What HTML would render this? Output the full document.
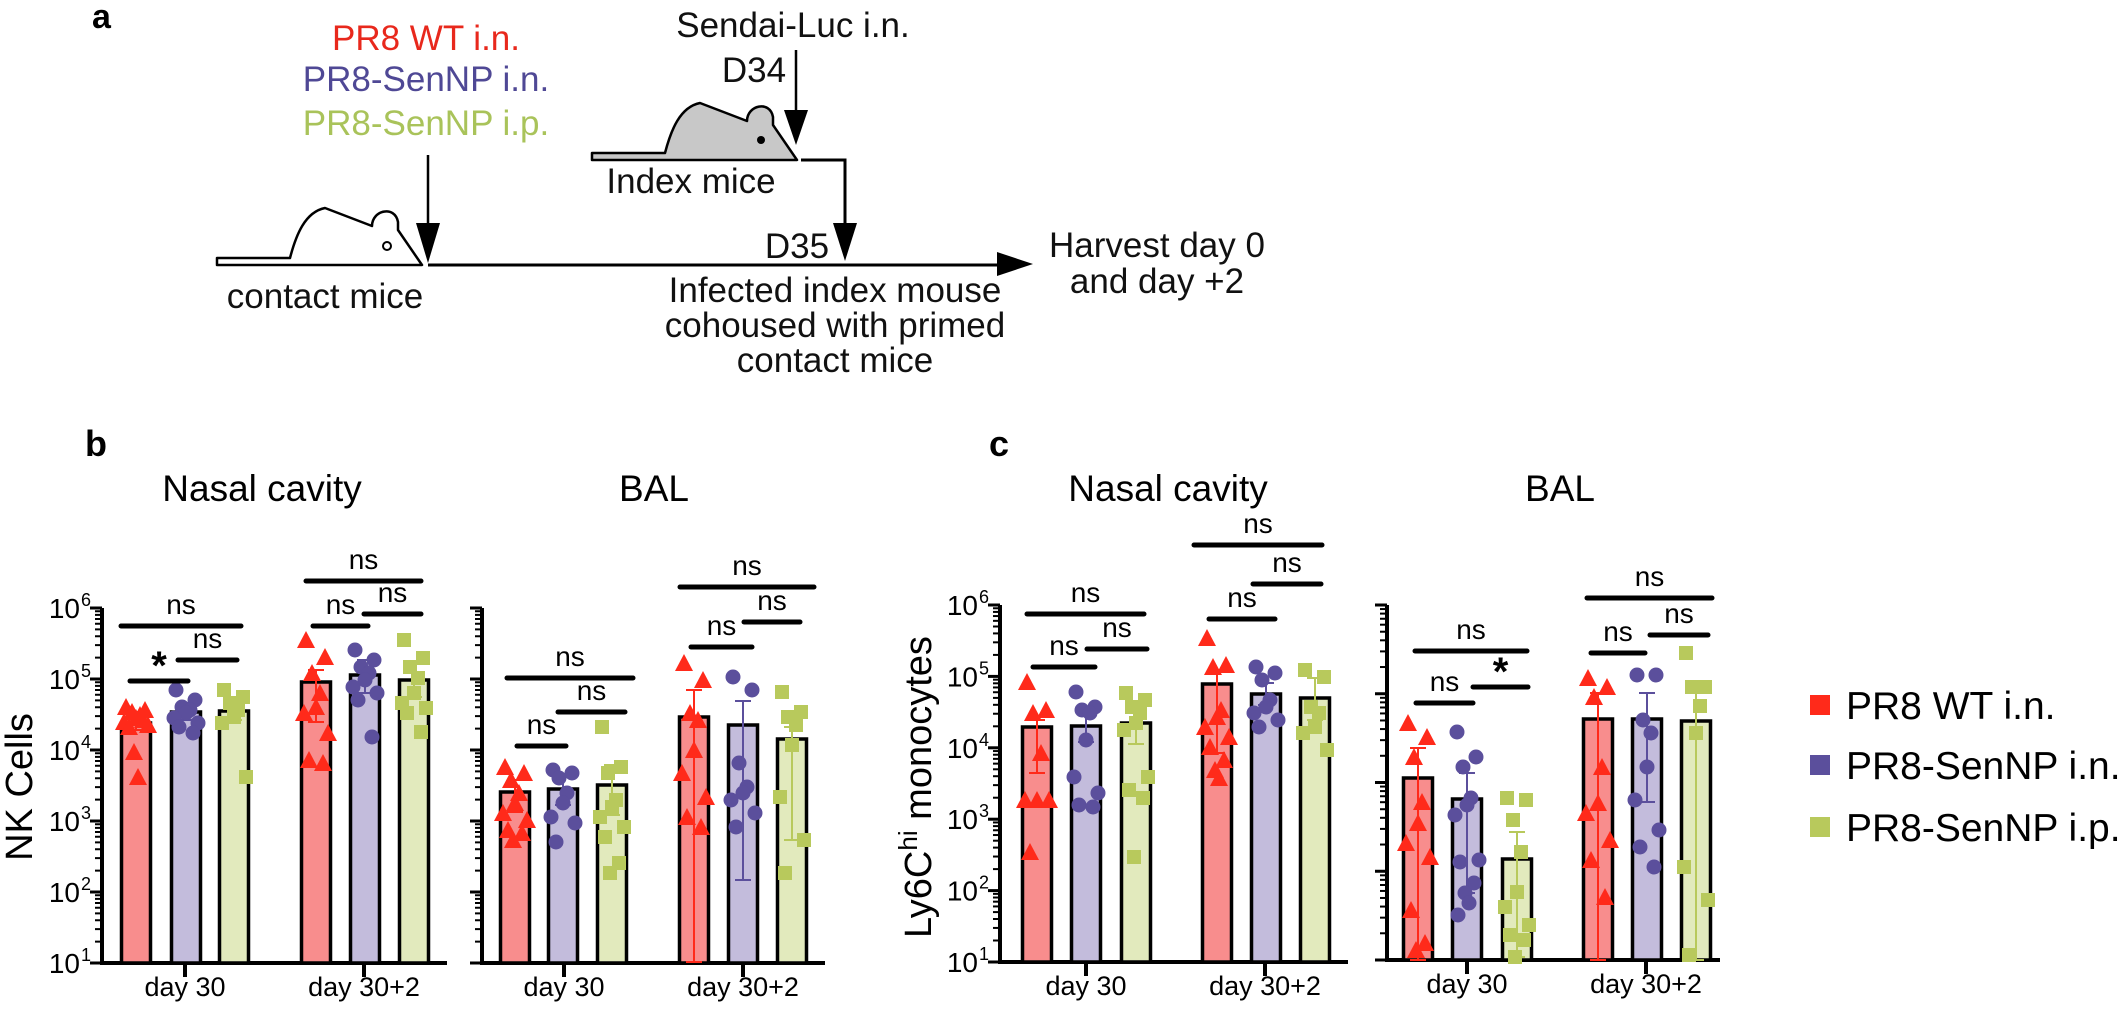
<!DOCTYPE html>
<html><head><meta charset="utf-8"><style>
html,body{margin:0;padding:0;background:#fff;}
svg{display:block;font-family:"Liberation Sans",Arial,sans-serif;}
</style></head><body>
<svg id="s" width="2125" height="1012" viewBox="0 0 2125 1012" xmlns="http://www.w3.org/2000/svg">
<rect width="2125" height="1012" fill="#fff"/>
<!-- Panel a -->
<text x="92" y="28" font-size="34" font-weight="bold">a</text>
<g font-size="35" text-anchor="middle">
<text x="426" y="50" fill="#e8281c">PR8 WT i.n.</text>
<text x="426" y="91" fill="#4f4895">PR8-SenNP i.n.</text>
<text x="426" y="135" fill="#a9c35a">PR8-SenNP i.p.</text>
<text x="325" y="308" fill="#111">contact mice</text>
<text x="793" y="37" fill="#111">Sendai-Luc i.n.</text>
<text x="754" y="82" fill="#111">D34</text>
<text x="691" y="193" fill="#111">Index mice</text>
<text x="797" y="258" fill="#111">D35</text>
<text x="835" y="302" fill="#111">Infected index mouse</text>
<text x="835" y="337" fill="#111">cohoused with primed</text>
<text x="835" y="372" fill="#111">contact mice</text>
<text x="1157" y="257" fill="#111">Harvest day 0</text>
<text x="1157" y="293" fill="#111">and day +2</text>
</g>
<!-- contact mouse -->
<path d="M217,258 L290,258 C296,235 305,212 325,208 L372,226 C372,210 395,205 398,222 L398,230 L422,265 L217,265 Z" fill="#fff" stroke="#000" stroke-width="2.5" stroke-linejoin="round"/>
<circle cx="387" cy="246" r="4" fill="#fff" stroke="#000" stroke-width="2"/>
<line x1="428" y1="155" x2="428" y2="240" stroke="#000" stroke-width="2.5"/>
<polygon points="416,223 440,223 428,263" fill="#000"/>
<line x1="428" y1="265" x2="1000" y2="265" stroke="#000" stroke-width="3"/>
<polygon points="997,252 1033,264 997,276" fill="#000"/>
<!-- index mouse -->
<path d="M592,153 L665,153 C671,130 680,107 700,103 L747,121 C747,105 770,100 773,117 L773,125 L797,160 L592,160 Z" fill="#c8c8c8" stroke="#000" stroke-width="2.5" stroke-linejoin="round"/>
<circle cx="761" cy="140" r="4" fill="#000"/>
<line x1="796" y1="50" x2="796" y2="125" stroke="#000" stroke-width="2.5"/>
<polygon points="784,110 808,110 796,145" fill="#000"/>
<polyline points="801,160 845,160 845,235" fill="none" stroke="#000" stroke-width="3"/>
<polygon points="833,223 857,223 845,261" fill="#000"/>

<text x="85" y="456" font-size="36" font-weight="bold">b</text>
<text x="989" y="456" font-size="36" font-weight="bold">c</text>
<g font-size="37" text-anchor="middle">
<text x="262" y="501">Nasal cavity</text>
<text x="654" y="501">BAL</text>
<text x="1168" y="501">Nasal cavity</text>
<text x="1560" y="501">BAL</text>
</g>
<text transform="translate(32,787) rotate(-90)" font-size="38" text-anchor="middle">NK Cells</text>
<text transform="translate(931,787) rotate(-90)" font-size="38" text-anchor="middle">Ly6C<tspan font-size="26" dy="-14">hi</tspan><tspan dy="14"> monocytes</tspan></text>

<!-- legend -->
<rect x="1810" y="695" width="20" height="20" fill="#ff2a1a"/>
<rect x="1810" y="755" width="20" height="20" fill="#5b4f9c"/>
<rect x="1810" y="817" width="20" height="20" fill="#b8c95c"/>
<g font-size="39">
<text x="1846" y="719">PR8 WT i.n.</text>
<text x="1846" y="779">PR8-SenNP i.n.</text>
<text x="1846" y="841">PR8-SenNP i.p.</text>
</g>
<g id="g"></g>
</svg>
<script>
const NS="http://www.w3.org/2000/svg";const G=document.getElementById('g');
function el(t,a,txt){const e=document.createElementNS(NS,t);for(const k in a)e.setAttribute(k,a[k]);if(txt!==undefined)e.textContent=txt;G.appendChild(e);return e;}
const FILL=["#f88d8d","#c3bcdc","#e2eabd"],MK=["#ff2a1a","#5b4f9c","#b8c95c"];
function axis(x,x2,top,bot,ndec,labels,ticks){
  const dec=(bot-top)/ndec;
  el('line',{x1:x,y1:top,x2:x,y2:bot+2,stroke:'#000','stroke-width':4});
  el('line',{x1:x-2,y1:bot,x2:x2,y2:bot,stroke:'#000','stroke-width':4});
  for(let d=0;d<=ndec;d++){const y=bot-d*dec;
    el('line',{x1:x-12,y1:y,x2:x,y2:y,stroke:'#000','stroke-width':3});
    if(d<ndec)for(let k=2;k<=9;k++){const yy=y-Math.log10(k)*dec;el('line',{x1:x-7,y1:yy,x2:x,y2:yy,stroke:'#000','stroke-width':2});}
    if(labels){el('text',{x:x-22,y:y+10,'font-size':28,'text-anchor':'end'},'10');
      el('text',{x:x-21,y:y-2,'font-size':18},String(d+1));}
  }
  for(const tx of ticks){el('line',{x1:tx,y1:bot,x2:tx,y2:bot+14,stroke:'#000','stroke-width':4});}
  el('text',{x:ticks[0],y:bot+33,'font-size':27,'text-anchor':'middle'},'day 30');
  el('text',{x:ticks[1],y:bot+33,'font-size':27,'text-anchor':'middle'},'day 30+2');
}
function marker(i,x,y){
  if(i==0)el('polygon',{points:`${x-9},${y+8} ${x+9},${y+8} ${x},${y-9}`,fill:MK[0]});
  else if(i==1)el('circle',{cx:x,cy:y,r:7.5,fill:MK[1]});
  else el('rect',{x:x-7,y:y-7,width:14,height:14,fill:MK[2]});
}
const J=[-10,9,-4,4,0,-12,12,-7,7,-2,2,-9,10];
function bar(cx,i,top,bot,pts,err){
  el('rect',{x:cx-14.5,y:top,width:29,height:bot-top,fill:FILL[i],stroke:'#000','stroke-width':3.5});
  if(err){el('line',{x1:cx,y1:err[0],x2:cx,y2:err[1],stroke:MK[i],'stroke-width':2});
    el('line',{x1:cx-8,y1:err[0],x2:cx+8,y2:err[0],stroke:MK[i],'stroke-width':2});
    el('line',{x1:cx-8,y1:err[1],x2:cx+8,y2:err[1],stroke:MK[i],'stroke-width':2});}
  pts.forEach((y,k)=>marker(i,cx+J[k%J.length],y));
}
function sig(x1,x2,y,t){
  el('line',{x1:x1,y1:y,x2:x2,y2:y,stroke:'#000','stroke-width':5,'stroke-linecap':'round'});
  if(t=='*')el('text',{x:(x1+x2)/2,y:y-2,'font-size':40,'font-weight':'bold','text-anchor':'middle'},'*');
  else el('text',{x:(x1+x2)/2,y:y-12,'font-size':28,'text-anchor':'middle'},t);
}
// b nasal
axis(102,447,608,963,5,true,[185,364]);
bar(136,0,723,963,[707,710,712,715,718,722,725,727,720,752,777],[712,730]);
bar(186,1,712,963,[690,700,707,710,713,718,723,727,733],[703,720]);
bar(234,2,711,963,[690,697,703,710,717,723,777],[700,720]);
bar(316,0,682,963,[640,657,673,693,707,713,733,760,763],[670,722]);
bar(365,1,675,963,[650,660,667,673,680,687,693,700,737],[660,693]);
bar(414,2,680,963,[640,658,667,678,693,703,708,713,732],[663,697]);
sig(121,241,626,'ns');sig(130,188,681,'*');sig(178,237,660,'ns');
sig(306,421,581,'ns');sig(313,368,626,'ns');sig(364,421,614,'ns');
// b BAL
axis(482,825,608,963,5,false,[564,743]);
bar(515,0,792,963,[767,773,780,793,803,813,820,830,833,840],[780,812]);
bar(563,1,789,963,[770,773,778,793,803,817,823,842],[777,805]);
bar(612,2,785,963,[727,767,773,800,807,817,827,837,863,873],[765,815]);
bar(694,0,717,963,[663,680,713,720,750,773,797,817,827],[690,962]);
bar(743,1,725,963,[677,690,763,787,793,800,813,827],[701,880]);
bar(792,2,739,963,[692,712,717,725,745,797,840,873],[727,840]);
sig(507,633,678,'ns');sig(517,566,746,'ns');sig(558,625,712,'ns');
sig(680,814,587,'ns');sig(691,752,647,'ns');sig(744,800,622,'ns');
// c nasal
axis(1000,1348,605,962,5,true,[1086,1265]);
bar(1037,0,727,962,[682,710,713,753,800,800,800,852],[720,773]);
bar(1086,1,726,962,[692,707,710,713,740,777,793,805,807],[710,742]);
bar(1136,2,723,962,[693,700,707,713,723,730,777,790,798,857],[707,744]);
bar(1217,0,684,962,[638,665,667,710,717,727,737,747,760,770,778],[670,753]);
bar(1266,1,694,962,[667,673,680,700,707,713,720,727],[683,705]);
bar(1315,2,698,962,[670,677,707,713,727,733,750],[678,720]);
sig(1027,1144,614,'ns');sig(1033,1095,667,'ns');sig(1087,1147,649,'ns');
sig(1194,1322,545,'ns');sig(1209,1275,619,'ns');sig(1253,1321,584,'ns');
// c BAL
axis(1387,1720,605,960,4,false,[1467,1646]);
bar(1418,0,778,960,[723,737,757,802,823,843,857,910,943,950],[748,960]);
bar(1467,1,799,960,[732,757,767,798,805,815,860,862,883,893,903,915],[773,893]);
bar(1517,2,859,960,[798,800,820,852,892,907,925,935,940,957],[832,957]);
bar(1598,0,719,960,[678,687,697,767,803,813,840,860,897],[693,960]);
bar(1647,1,719,960,[675,675,720,733,767,800,830,847,867],[693,802]);
bar(1696,2,721,960,[653,687,687,706,733,867,900,955],[687,960]);
sig(1415,1527,651,'ns');sig(1416,1473,703,'ns');sig(1473,1528,687,'*');
sig(1587,1712,598,'ns');sig(1591,1645,653,'ns');sig(1650,1708,635,'ns');
</script>
</body></html>
